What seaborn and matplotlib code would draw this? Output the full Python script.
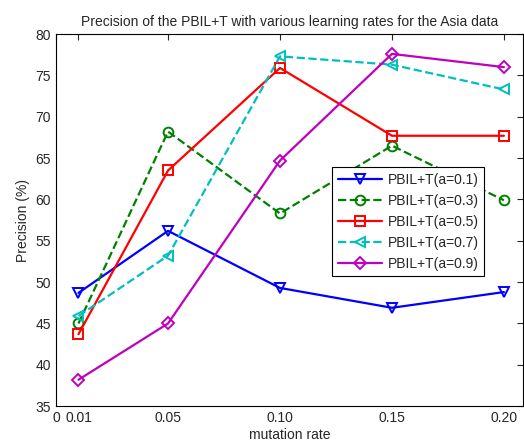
import pandas as pd
import seaborn as sns
import matplotlib
matplotlib.use("Agg")
import matplotlib.pyplot as plt

# values
mutation_rates = [0.01, 0.05, 0.10, 0.15, 0.20]
labels = ['PBIL+T(a=0.1)', 'PBIL+T(a=0.3)', 'PBIL+T(a=0.5)', 'PBIL+T(a=0.7)', 'PBIL+T(a=0.9)']
prec_01 = [48.7, 56.2, 49.3, 46.9, 48.8]
prec_03 = [45.0, 68.2, 58.3, 66.5, 59.9]
prec_05 = [43.7, 63.5, 75.9, 67.7, 67.7]
prec_07 = [45.9, 53.2, 77.3, 76.3, 73.3]
prec_09 = [38.2, 45.0, 64.7, 77.6, 76.0]
xtick_vals = [0, 0.01, 0.05, 0.10, 0.15, 0.20]
xtick_labels = ['0', '0.01', '0.05', '0.10', '0.15', '0.20']

series = [prec_01, prec_03, prec_05, prec_07, prec_09]
colors = ['#0000ff', '#008000', '#ff0000', '#00bfbf', '#bf00bf']
markers = ['v', 'o', 's', '<', 'D']
msizes = [7.5, 7, 7, 7.5, 6]
styles = ['-', '--', '-', '--', '-']

sns.set_style('white')
plt.rcParams['font.family'] = ['Liberation Sans', 'DejaVu Sans']
plt.rcParams['font.size'] = 10

fig = plt.figure(figsize=(5.24, 4.42), dpi=100)
ax = fig.add_axes([0.107, 0.081, 0.891, 0.842])

for lab, vals, c, m, ms, ls in zip(labels, series, colors, markers, msizes, styles):
    df = pd.DataFrame({'rate': mutation_rates, 'prec': vals})
    sns.lineplot(data=df, x='rate', y='prec', ax=ax, color=c, linestyle=ls,
                 linewidth=1.6, marker=m, markersize=ms, markerfacecolor='none',
                 markeredgecolor=c, markeredgewidth=1.4, label=lab)

ax.set_xlim(0, 0.2085)
ax.set_ylim(35, 80)
ax.set_xticks(xtick_vals)
ax.set_xticklabels(xtick_labels)
ax.set_yticks(range(35, 81, 5))
ax.tick_params(direction='in', top=True, right=True, length=4, width=0.8, labelsize=10)
for sp in ax.spines.values():
    sp.set_color('black')
    sp.set_linewidth(0.8)

ax.set_title('Precision of the PBIL+T with various learning rates for the Asia data', fontsize=10)
ax.set_xlabel('mutation rate', fontsize=10, labelpad=2)
ax.set_ylabel('Precision (%)', fontsize=10)

leg = ax.legend(loc='upper left', bbox_to_anchor=(0.591, 0.642), borderaxespad=0,
                fancybox=False, edgecolor='black', framealpha=1, fontsize=10,
                handlelength=3.2, borderpad=0.4, labelspacing=0.5, handletextpad=0.4)
leg.get_frame().set_linewidth(0.8)

fig.savefig('out.png', dpi=100)
